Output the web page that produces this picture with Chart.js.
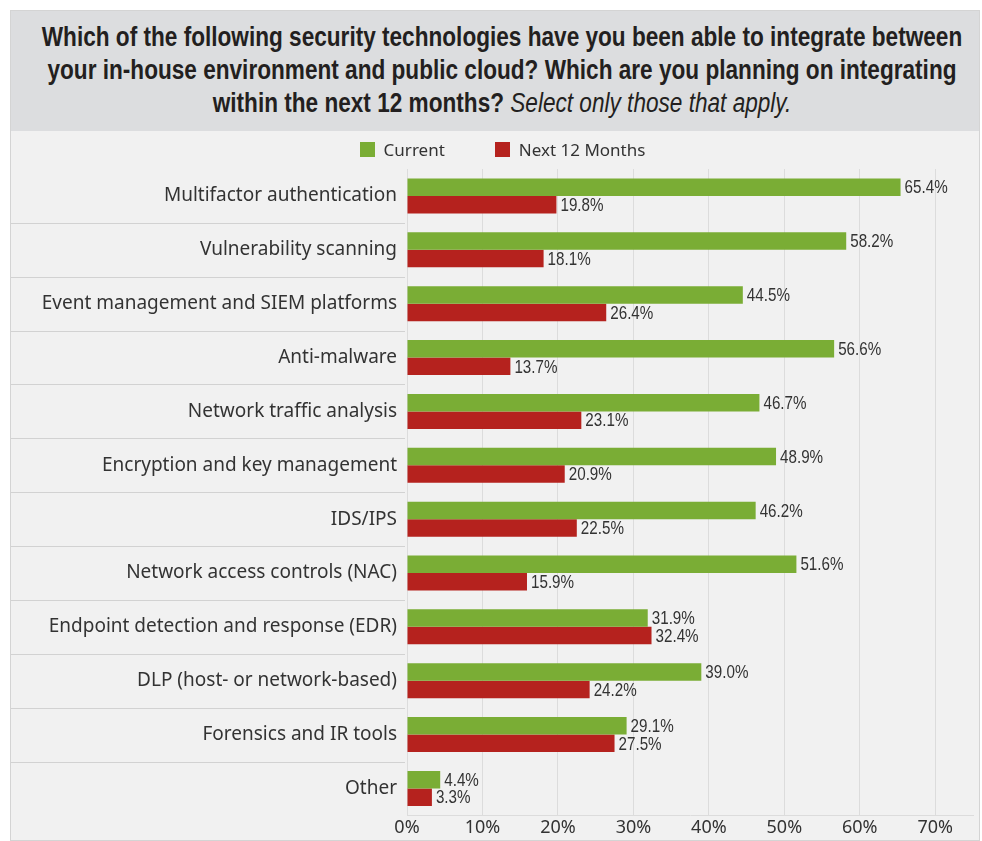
<!DOCTYPE html>
<html>
<head>
<meta charset="utf-8">
<script src="https://cdn.jsdelivr.net/npm/chart.js@4"></script>
<style>
  body { margin: 0; background: #fff; }
  #wrap {
    position: absolute; left: 10px; top: 10px; width: 970px; height: 831px;
    background: #f1f1f1; box-sizing: border-box; border: 1px solid #d4d4d4;
    overflow: hidden;
  }
  #title {
    position: relative; height: 120px; background: #dcdddf;
  }
  #title div {
    position: absolute; left: calc(50% + 7px); top: 10px; white-space: nowrap;
    transform: translateX(-50%) scaleX(0.837);
    color: #231f20; font-family: 'Liberation Sans', Arial, sans-serif;
    font-weight: bold; font-size: 27px; line-height: 33px; text-align: center;
  }
  #title i { font-weight: normal; }
  #box { position: relative; width: 968px; height: 710px; }
  #legend {
    position: absolute; top: 5px; left: 0; width: 100%; text-align: center;
    padding-left: 15px; box-sizing: border-box;
    font-family: 'Noto Sans', sans-serif; font-size: 17px; color: #333;
  }
  #legend span { display: inline-block; vertical-align: middle; }
  #legend .sw { width: 15px; height: 15px; margin-right: 9px; }
</style>
</head>
<body>
<div id="wrap">
  <div id="title"><div>Which of the following security technologies have you been able to integrate between<br>your in-house environment and public cloud? Which are you planning on integrating<br>within the next 12 months? <i>Select only those that apply.</i></div></div>
  <div id="box">
    <div id="legend"></div>
    <canvas id="chart"></canvas>
  </div>
</div>
<script>
const categories = [
  'Multifactor authentication',
  'Vulnerability scanning',
  'Event management and SIEM platforms',
  'Anti-malware',
  'Network traffic analysis',
  'Encryption and key management',
  'IDS/IPS',
  'Network access controls (NAC)',
  'Endpoint detection and response (EDR)',
  'DLP (host- or network-based)',
  'Forensics and IR tools',
  'Other',
];
const seriesNames = ['Current', 'Next 12 Months'];
const currentValues = [65.4, 58.2, 44.5, 56.6, 46.7, 48.9, 46.2, 51.6, 31.9, 39.0, 29.1, 4.4];
const nextValues = [19.8, 18.1, 26.4, 13.7, 23.1, 20.9, 22.5, 15.9, 32.4, 24.2, 27.5, 3.3];
const tickValues = [0, 10, 20, 30, 40, 50, 60, 70];

const green = '#7aad35';
const red = '#b5221e';
const textColor = '#333333';

// value labels at the end of each bar, squeezed to a narrow face
const valueLabels = {
  id: 'valueLabels',
  afterDatasetsDraw(chart) {
    const ctx = chart.ctx;
    chart.data.datasets.forEach((ds, i) => {
      chart.getDatasetMeta(i).data.forEach((bar, j) => {
        ctx.save();
        ctx.translate(bar.x + 4, bar.y + 1);
        ctx.scale(0.8, 1);
        ctx.font = '19px "Liberation Sans", Arial, sans-serif';
        ctx.fillStyle = textColor;
        ctx.textBaseline = 'middle';
        ctx.fillText(ds.data[j].toFixed(1) + '%', 0, 0);
        ctx.restore();
      });
    });
  },
};

// thin rules between the category labels on the left
const labelRules = {
  id: 'labelRules',
  beforeDatasetsDraw(chart) {
    const ctx = chart.ctx;
    const y = chart.scales.y;
    ctx.save();
    ctx.strokeStyle = '#d2d2d2';
    ctx.lineWidth = 1;
    for (let i = 0; i < categories.length - 1; i++) {
      const py = Math.round((y.getPixelForValue(i) + y.getPixelForValue(i + 1)) / 2) + 0.5;
      ctx.beginPath();
      ctx.moveTo(0, py);
      ctx.lineTo(chart.chartArea.left - 2, py);
      ctx.stroke();
    }
    ctx.restore();
  },
};

const chart = new Chart(document.getElementById('chart'), {
  type: 'bar',
  data: {
    labels: categories,
    datasets: [
      { label: seriesNames[0], data: currentValues, backgroundColor: green },
      { label: seriesNames[1], data: nextValues, backgroundColor: red },
    ],
  },
  options: {
    indexAxis: 'y',
    responsive: true,
    maintainAspectRatio: false,
    animation: false,
    layout: { padding: { top: 38, right: 6, bottom: 0, left: 0 } },
    datasets: { bar: { categoryPercentage: 0.65, barPercentage: 1 } },
    scales: {
      x: {
        min: 0,
        max: 75,
        afterBuildTicks(scale) {
          scale.ticks = tickValues.map(v => ({ value: v }));
        },
        grid: { color: '#dcdcdc', drawTicks: false },
        border: { color: '#dcdcdc' },
        ticks: {
          padding: 2,
          color: textColor,
          font: { family: 'Noto Sans', size: 18 },
          callback: v => v + '%',
        },
      },
      y: {
        grid: { display: false },
        border: { display: false },
        afterFit(scale) { scale.width = 396; },
        ticks: {
          padding: 2,
          color: textColor,
          font: { family: 'Noto Sans', size: 19 },
        },
      },
    },
    plugins: {
      legend: { display: false },
      tooltip: { enabled: false },
    },
  },
  plugins: [valueLabels, labelRules],
});

// legend built from the chart's datasets
document.getElementById('legend').innerHTML = chart.data.datasets
  .map((ds, i) =>
    `<span class="sw" style="background:${ds.backgroundColor}"></span>` +
    `<span style="margin-right:${i === 0 ? 50 : 0}px">${ds.label}</span>`)
  .join('');
</script>
</body>
</html>
